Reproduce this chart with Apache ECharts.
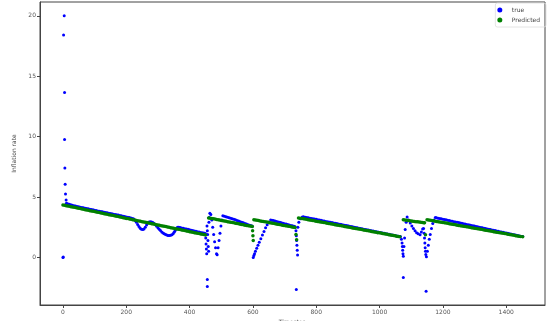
<!DOCTYPE html>
<html>
<head>
<meta charset="utf-8">
<script src="https://cdn.jsdelivr.net/npm/echarts@6/dist/echarts.min.js"></script>
<style>
  html, body { margin: 0; padding: 0; background: #fff; }
  #chart { width: 550px; height: 321px; }
</style>
</head>
<body>
<div id="chart"></div>
<script>
// Observed values: [timestep, value]
const trueValues = [
  [0, 0.0], [1, 0.03],
  [2, 18.4], [4, 20.0], [5, 13.65], [5, 9.75], [6, 7.4], [7, 6.05], [8, 5.25], [10, 4.75], [11, 4.48],
  [15, 4.44], [20, 4.4], [25, 4.36], [30, 4.31], [35, 4.28], [40, 4.25], [45, 4.22], [50, 4.19],
  [55, 4.16], [60, 4.13], [65, 4.1], [70, 4.07], [75, 4.05], [80, 4.02], [85, 3.99], [90, 3.96],
  [95, 3.94], [100, 3.91], [105, 3.88], [110, 3.85], [115, 3.83], [120, 3.8], [125, 3.77], [130, 3.74],
  [135, 3.72], [140, 3.69], [145, 3.66], [150, 3.63], [155, 3.61], [160, 3.58], [165, 3.55], [170, 3.52],
  [175, 3.5], [180, 3.47], [185, 3.44], [190, 3.41], [195, 3.38], [200, 3.35], [205, 3.33], [210, 3.3],
  [215, 3.27], [220, 3.22],
  [224, 3.17], [228, 3.05], [232, 2.9], [236, 2.72], [240, 2.55], [244, 2.42], [248, 2.33], [252, 2.3],
  [256, 2.36], [260, 2.5], [264, 2.68], [268, 2.85], [272, 2.94], [276, 2.96], [280, 2.94], [284, 2.88],
  [288, 2.8], [292, 2.7], [296, 2.58], [300, 2.46], [304, 2.34], [308, 2.22], [312, 2.11], [316, 2.02],
  [320, 1.95], [324, 1.89], [328, 1.85], [332, 1.82], [336, 1.81], [340, 1.83], [344, 1.88], [348, 1.96],
  [351, 2.08], [354, 2.2], [357, 2.33], [360, 2.45], [363, 2.5], [366, 2.5],
  [370, 2.47], [375, 2.44], [380, 2.41], [385, 2.38], [390, 2.35], [395, 2.32], [400, 2.28], [405, 2.25],
  [410, 2.22], [415, 2.19], [420, 2.16], [425, 2.13], [430, 2.1], [435, 2.07], [440, 2.04], [445, 2.01],
  [450, 1.98],
  [451, 1.6], [452, 1.1], [453, 0.7], [454, 0.3], [455, 2.6], [456, 2.2], [457, 1.9], [458, 1.4],
  [459, 0.9], [460, 0.5], [461, 2.9], [462, 3.3], [464, 3.66],
  [456, -1.83], [456, -2.4],
  [467, 3.55], [470, 3.1], [473, 2.5], [476, 1.9], [479, 1.3], [482, 0.8], [485, 0.3], [487, 0.22],
  [490, 0.8], [493, 1.4], [496, 2.0], [499, 2.6], [502, 3.1], [505, 3.44],
  [510, 3.4], [515, 3.36], [520, 3.32], [525, 3.28], [530, 3.24], [535, 3.2], [540, 3.15], [545, 3.11],
  [550, 3.06], [555, 3.01], [560, 2.96], [565, 2.91], [570, 2.86], [575, 2.81], [580, 2.76], [585, 2.71],
  [590, 2.66], [595, 2.61], [598, 2.57],
  [601, 0.0], [603, 0.15], [605, 0.3], [608, 0.5], [612, 0.75], [616, 1.0], [620, 1.25], [625, 1.55],
  [630, 1.85], [635, 2.15], [640, 2.45], [645, 2.7], [650, 2.9], [656, 3.1],
  [660, 3.08], [665, 3.05], [670, 3.01], [675, 2.97], [680, 2.94], [685, 2.9], [690, 2.87], [695, 2.83],
  [700, 2.79], [705, 2.76], [710, 2.72], [715, 2.68], [720, 2.65], [725, 2.61], [730, 2.57], [733, 2.53],
  [736, 2.2], [737, 1.8], [738, 1.4], [739, 1.0], [740, 0.6], [741, 0.2], [742, 2.5], [745, 2.9],
  [750, 3.2], [756, 3.35],
  [737, -2.66],
  [760, 3.36], [765, 3.33], [770, 3.31], [775, 3.28], [780, 3.25], [785, 3.23], [790, 3.2], [795, 3.17],
  [800, 3.15], [805, 3.12], [810, 3.09], [815, 3.07], [820, 3.04], [825, 3.01], [830, 2.98], [835, 2.96],
  [840, 2.93], [845, 2.9], [850, 2.88], [855, 2.85], [860, 2.82], [865, 2.8], [870, 2.77], [875, 2.74],
  [880, 2.72], [885, 2.69], [890, 2.66], [895, 2.64], [900, 2.61], [905, 2.58], [910, 2.56], [915, 2.53],
  [920, 2.5], [925, 2.47], [930, 2.45], [935, 2.42], [940, 2.39], [945, 2.37], [950, 2.34], [955, 2.31],
  [960, 2.29], [965, 2.26], [970, 2.23], [975, 2.21], [980, 2.18], [985, 2.15], [990, 2.13], [995, 2.1],
  [1000, 2.07], [1005, 2.05], [1010, 2.02], [1015, 1.99], [1020, 1.96], [1025, 1.94], [1030, 1.91],
  [1035, 1.88], [1040, 1.86], [1045, 1.83], [1050, 1.8], [1055, 1.78], [1060, 1.75], [1066, 1.72],
  [1069, 1.5], [1071, 1.2], [1072, 0.9], [1073, 0.6], [1074, 0.3], [1075, 0.1],
  [1075, -1.67],
  [1077, 0.9], [1079, 1.6], [1081, 2.3], [1084, 2.9], [1087, 3.35],
  [1092, 3.1], [1097, 2.85], [1102, 2.6], [1107, 2.4], [1112, 2.2], [1117, 2.05], [1122, 1.95],
  [1128, 1.88], [1132, 2.1], [1136, 2.35], [1139, 2.4],
  [1141, 2.0], [1142, 1.6], [1143, 1.2], [1144, 0.8], [1145, 0.5], [1146, 0.25], [1148, 0.05],
  [1147, -2.8],
  [1151, 0.5], [1154, 1.0], [1157, 1.5], [1160, 1.9], [1164, 2.4], [1168, 2.8], [1172, 3.1],
  [1176, 3.3], [1180, 3.28], [1185, 3.25], [1190, 3.22], [1195, 3.19], [1200, 3.16], [1205, 3.13],
  [1210, 3.11], [1215, 3.08], [1220, 3.05], [1225, 3.02], [1230, 2.99], [1235, 2.96], [1240, 2.93],
  [1245, 2.9], [1250, 2.88], [1255, 2.85], [1260, 2.82], [1265, 2.79], [1270, 2.76], [1275, 2.73],
  [1280, 2.71], [1285, 2.68], [1290, 2.65], [1295, 2.62], [1300, 2.59], [1305, 2.56], [1310, 2.53],
  [1315, 2.5], [1320, 2.48], [1325, 2.45], [1330, 2.42], [1335, 2.39], [1340, 2.36], [1345, 2.33],
  [1350, 2.3], [1355, 2.27], [1360, 2.25], [1365, 2.22], [1370, 2.19], [1375, 2.16], [1380, 2.13],
  [1385, 2.1], [1390, 2.08], [1395, 2.05], [1400, 2.02], [1405, 1.99], [1410, 1.96], [1415, 1.93],
  [1420, 1.9], [1425, 1.87], [1430, 1.85], [1435, 1.82], [1440, 1.79], [1445, 1.76], [1450, 1.73],
  [1452, 1.72]
];

// Model output: [timestep, value]
const predictedValues = [
  [0, 4.34], [5, 4.31], [10, 4.28], [15, 4.26], [20, 4.23], [25, 4.2], [30, 4.17], [35, 4.15],
  [40, 4.12], [45, 4.09], [50, 4.06], [55, 4.04], [60, 4.01], [65, 3.98], [70, 3.95], [75, 3.93],
  [80, 3.9], [85, 3.87], [90, 3.84], [95, 3.82], [100, 3.79], [105, 3.76], [110, 3.73], [115, 3.71],
  [120, 3.68], [125, 3.65], [130, 3.62], [135, 3.6], [140, 3.57], [145, 3.54], [150, 3.51], [155, 3.49],
  [160, 3.46], [165, 3.43], [170, 3.4], [175, 3.38], [180, 3.35], [185, 3.32], [190, 3.29], [195, 3.26],
  [200, 3.23], [205, 3.21], [210, 3.18], [215, 3.15], [220, 3.12], [225, 3.1], [230, 3.07], [235, 3.04],
  [240, 3.01], [245, 2.99], [250, 2.96], [255, 2.93], [260, 2.9], [265, 2.88], [270, 2.85], [275, 2.82],
  [280, 2.79], [285, 2.77], [290, 2.74], [295, 2.71], [300, 2.68], [305, 2.66], [310, 2.63], [315, 2.6],
  [320, 2.57], [325, 2.55], [330, 2.52], [335, 2.49], [340, 2.46], [345, 2.44], [350, 2.41], [355, 2.38],
  [360, 2.35], [365, 2.33], [370, 2.3], [375, 2.27], [380, 2.24], [385, 2.22], [390, 2.19], [395, 2.16],
  [400, 2.13], [405, 2.11], [410, 2.08], [415, 2.05], [420, 2.02], [425, 2.0], [430, 1.97], [435, 1.94],
  [440, 1.91], [445, 1.89], [450, 1.86],
  [460, 3.27], [465, 3.25], [470, 3.22], [475, 3.2], [480, 3.17], [485, 3.14], [490, 3.12], [495, 3.09],
  [500, 3.06], [505, 3.04], [510, 3.01], [515, 2.99], [520, 2.96], [525, 2.93], [530, 2.91], [535, 2.88],
  [540, 2.86], [545, 2.83], [550, 2.8], [555, 2.78], [560, 2.75], [565, 2.73], [570, 2.7], [575, 2.67],
  [580, 2.65], [585, 2.62], [590, 2.6], [595, 2.57], [598, 2.56],
  [599, 2.2], [600, 1.8], [601, 1.4],
  [603, 3.12], [608, 3.1], [613, 3.07], [618, 3.05], [623, 3.02], [628, 3.0], [633, 2.97], [638, 2.95],
  [643, 2.92], [648, 2.9], [653, 2.87], [658, 2.85], [663, 2.82], [668, 2.8], [673, 2.77], [678, 2.75],
  [683, 2.72], [688, 2.7], [693, 2.67], [698, 2.65], [703, 2.62], [708, 2.6], [713, 2.57], [718, 2.55],
  [723, 2.52], [728, 2.5], [733, 2.47],
  [736, 1.9], [738, 1.46],
  [744, 3.27], [749, 3.25], [754, 3.22], [759, 3.2], [764, 3.17], [769, 3.15], [774, 3.12], [779, 3.1],
  [784, 3.07], [789, 3.05], [794, 3.03], [799, 3.0], [804, 2.98], [809, 2.95], [814, 2.93], [819, 2.9],
  [824, 2.88], [829, 2.86], [834, 2.83], [839, 2.81], [844, 2.78], [849, 2.76], [854, 2.74], [859, 2.71],
  [864, 2.69], [869, 2.66], [874, 2.64], [879, 2.61], [884, 2.59], [889, 2.56], [894, 2.54], [899, 2.52],
  [904, 2.49], [909, 2.47], [914, 2.44], [919, 2.42], [924, 2.4], [929, 2.37], [934, 2.35], [939, 2.32],
  [944, 2.3], [949, 2.27], [954, 2.25], [959, 2.22], [964, 2.2], [969, 2.18], [974, 2.15], [979, 2.13],
  [984, 2.1], [989, 2.08], [994, 2.05], [999, 2.03], [1004, 2.01], [1009, 1.98], [1014, 1.96],
  [1019, 1.93], [1024, 1.91], [1029, 1.88], [1034, 1.86], [1039, 1.84], [1044, 1.81], [1049, 1.79],
  [1054, 1.76], [1059, 1.74], [1064, 1.71],
  [1075, 3.12], [1080, 3.1], [1085, 3.08], [1090, 3.06], [1095, 3.04], [1100, 3.02], [1105, 3.0],
  [1110, 2.98], [1115, 2.96], [1120, 2.95], [1125, 2.93], [1130, 2.91], [1135, 2.89], [1140, 2.87],
  [1142, 2.86], [1145, 1.87],
  [1150, 3.12], [1155, 3.1], [1160, 3.07], [1165, 3.05], [1170, 3.03], [1175, 3.0], [1180, 2.98],
  [1185, 2.96], [1190, 2.93], [1195, 2.91], [1200, 2.89], [1205, 2.86], [1210, 2.84], [1215, 2.82],
  [1220, 2.79], [1225, 2.77], [1230, 2.74], [1235, 2.72], [1240, 2.7], [1245, 2.67], [1250, 2.65],
  [1255, 2.63], [1260, 2.6], [1265, 2.58], [1270, 2.56], [1275, 2.53], [1280, 2.51], [1285, 2.49],
  [1290, 2.46], [1295, 2.44], [1300, 2.42], [1305, 2.39], [1310, 2.37], [1315, 2.35], [1320, 2.32],
  [1325, 2.3], [1330, 2.27], [1335, 2.25], [1340, 2.23], [1345, 2.2], [1350, 2.18], [1355, 2.16],
  [1360, 2.13], [1365, 2.11], [1370, 2.09], [1375, 2.06], [1380, 2.04], [1385, 2.02], [1390, 1.99],
  [1395, 1.97], [1400, 1.95], [1405, 1.92], [1410, 1.9], [1415, 1.88], [1420, 1.85], [1425, 1.83],
  [1430, 1.8], [1435, 1.78], [1440, 1.76], [1445, 1.73], [1452, 1.7]
];

const xTicks = [0, 200, 400, 600, 800, 1000, 1200, 1400];
const yTicks = [0, 5, 10, 15, 20];

const FONT = 'DejaVu Sans';
const chart = echarts.init(document.getElementById('chart'), null, { renderer: 'canvas' });

chart.setOption({
  animation: false,
  backgroundColor: '#fff',
  grid: {
    left: 40, right: 5, top: 2, bottom: 16,
    outerBoundsMode: 'none',
    containLabel: false,
    show: true, borderColor: '#444', borderWidth: 1, backgroundColor: 'transparent'
  },
  legend: {
    orient: 'vertical',
    right: 4, top: 3,
    itemWidth: 14, itemHeight: 5, itemGap: 4,
    padding: [4, 6, 4, 2],
    borderColor: '#ddd', borderWidth: 0.8, borderRadius: 2,
    textStyle: { fontFamily: FONT, fontSize: 6, color: '#444' },
    data: [
      { name: 'true', icon: 'circle' },
      { name: 'Predicted', icon: 'circle' }
    ]
  },
  xAxis: {
    type: 'value',
    min: -72.5, max: 1522.5,
    name: 'Timestep',
    nameLocation: 'middle', nameGap: 11,
    nameTextStyle: { fontFamily: FONT, fontSize: 6, color: '#444' },
    axisLine: { show: true, onZero: false, lineStyle: { color: '#444', width: 1 } },
    axisTick: { show: true, inside: false, length: 3, customValues: xTicks, lineStyle: { color: '#444' } },
    axisLabel: {
      customValues: xTicks, fontFamily: FONT, fontSize: 6, color: '#555', margin: 4,
      formatter: (v) => String(v)
    },
    splitLine: { show: false }
  },
  yAxis: {
    type: 'value',
    min: -3.94, max: 21.14,
    name: 'Inflation rate',
    nameLocation: 'middle', nameGap: 18, nameRotate: 90,
    nameTextStyle: { fontFamily: FONT, fontSize: 6, color: '#444' },
    axisLine: { show: true, onZero: false, lineStyle: { color: '#444', width: 1 } },
    axisTick: { show: true, inside: false, length: 3, customValues: yTicks, lineStyle: { color: '#444' } },
    axisLabel: {
      customValues: yTicks, fontFamily: FONT, fontSize: 6, color: '#555', margin: 4,
      formatter: (v) => String(v)
    },
    splitLine: { show: false }
  },
  series: [
    {
      name: 'true',
      type: 'scatter',
      symbol: 'circle',
      symbolSize: 3,
      itemStyle: { color: '#0000ff', opacity: 1 },
      data: trueValues
    },
    {
      name: 'Predicted',
      type: 'scatter',
      symbol: 'circle',
      symbolSize: 3.5,
      itemStyle: { color: '#008000', opacity: 1 },
      data: predictedValues
    }
  ]
});
</script>
</body>
</html>
